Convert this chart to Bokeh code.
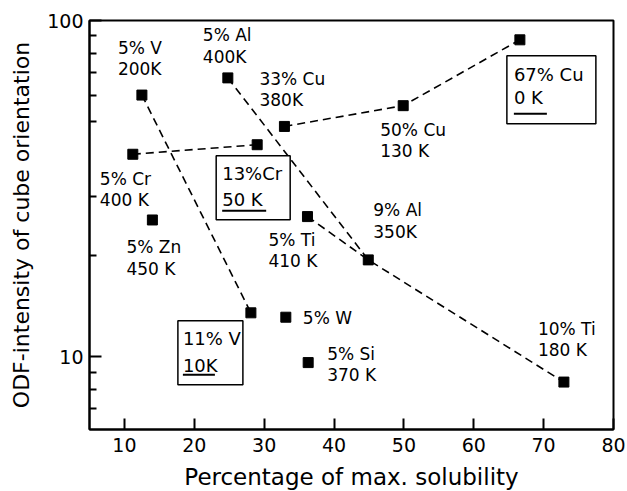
import math

from bokeh.core.properties import value
from bokeh.embed import file_html
from bokeh.models import FixedTicker, PrintfTickFormatter, Range1d
from bokeh.plotting import figure
from bokeh.resources import INLINE

# ---- data -----------------------------------------------------------------
alloys = ["5% V", "11% V", "5% Cr", "13% Cr", "5% Al", "9% Al", "5% Ti",
          "10% Ti", "33% Cu", "50% Cu", "67% Cu", "5% Zn", "5% W", "5% Si"]
solubility = [12.5, 28.1, 11.2, 29.0, 24.8, 44.9, 36.2,
              72.9, 32.9, 49.9, 66.6, 14.0, 33.1, 36.3]
intensity = [60.0, 13.5, 40.0, 42.7, 67.5, 19.4, 26.1,
             8.4, 48.4, 55.8, 87.6, 25.5, 13.1, 9.6]
anneal = ["200K", "10K", "400 K", "50 K", "400K", "350K", "410 K",
          "180 K", "380K", "130 K", "0 K", "450 K", "", "370 K"]

# dashed connections between alloys of one family
series = [
    ["5% V", "11% V"],
    ["5% Cr", "13% Cr"],
    ["5% Al", "9% Al"],
    ["5% Ti", "9% Al", "10% Ti"],
    ["33% Cu", "50% Cu", "67% Cu"],
]

x_ticks = [10, 20, 30, 40, 50, 60, 70, 80]
y_ticks = [10, 100]
y_minor = [7, 8, 9, 20, 30, 50, 60, 70, 80, 90]

# ---- layout ---------------------------------------------------------------
FONT = "DejaVu Sans"
FRAME_W, FRAME_H = 524, 409
X_MIN, X_MAX = 5, 80
Y_MIN, Y_MAX = 6.07, 100
CAP_PAD = 3.5

# label placement in screen pixels, relative to the marker (left, cap top)
label_offsets = {
    "5% V": (-24, -54), "5% Al": (-25, -49), "33% Cu": (-25, -54),
    "5% Cr": (-33, 18), "5% Zn": (-26, 21), "5% Ti": (-39, 17),
    "50% Cu": (-23, 18), "9% Al": (5, -56), "10% Ti": (-26, -60),
    "5% W": (17, -6), "5% Si": (19, -15),
}

# framed labels: box (l, t, r, b), first line (dx, dy), line gap, underline
boxed = {
    "13% Cr": dict(box=(-41, 11, 33, 75), name=(-35, 22), gap=26, uline=44, udy=66),
    "67% Cu": dict(box=(-13, 16, 76, 84), name=(-6, 28), gap=23, uline=33, udy=74),
    "11% V": dict(box=(-73, 8, -8, 72), name=(-68, 19), gap=27, uline=32, udy=62),
}

LOG_SPAN = math.log10(Y_MAX / Y_MIN)


def shift(x, y, dx, dy):
    """Move a data point by (dx, dy) screen pixels (dy downwards)."""
    return (x + dx * (X_MAX - X_MIN) / FRAME_W,
            y * 10 ** (-dy * LOG_SPAN / FRAME_H))


p = figure(
    width=627, height=491, frame_width=FRAME_W, frame_height=FRAME_H,
    x_range=Range1d(X_MIN, X_MAX), y_range=Range1d(Y_MIN, Y_MAX),
    y_axis_type="log", output_backend="svg", toolbar_location=None,
    min_border_left=89, min_border_top=20, min_border_right=14,
    min_border_bottom=62,
)
p.grid.visible = False
p.background_fill_color = "white"
p.border_fill_color = "white"
p.outline_line_color = "black"
p.outline_line_width = 2

for ax in (p.xaxis[0], p.yaxis[0]):
    ax.axis_line_width = 2
    ax.axis_line_color = "black"
    ax.major_tick_line_width = 2
    ax.major_tick_line_color = "black"
    ax.minor_tick_line_width = 2
    ax.minor_tick_line_color = "black"
    ax.major_tick_out = 0
    ax.minor_tick_out = 0
    ax.major_label_text_font = FONT
    ax.major_label_text_font_size = "19px"
    ax.major_label_text_color = "black"
    ax.axis_label_text_font = FONT
    ax.axis_label_text_font_size = "22px"
    ax.axis_label_text_font_style = "normal"
    ax.axis_label_text_color = "black"

xa = p.xaxis[0]
xa.ticker = FixedTicker(ticks=x_ticks)
xa.major_tick_in = 11
xa.minor_tick_in = 0
xa.minor_tick_line_color = None
xa.major_label_standoff = 8
xa.axis_label = "Percentage of max. solubility"
xa.axis_label_text_font_size = "23px"
xa.axis_label_standoff = 9

ya = p.yaxis[0]
ya.ticker = FixedTicker(ticks=y_ticks, minor_ticks=y_minor)
ya.formatter = PrintfTickFormatter(format="%d")
ya.major_tick_in = 12
ya.minor_tick_in = 7
ya.major_label_standoff = 6
ya.axis_label = "ODF-intensity of cube orientation"
ya.axis_label_standoff = 10

pos = {a: (x, y) for a, x, y in zip(alloys, solubility, intensity)}

# dashed family lines
for fam in series:
    p.line([pos[a][0] for a in fam], [pos[a][1] for a in fam],
           line_dash="8 5", line_width=1.6, line_color="black")

# markers
p.scatter(solubility, intensity, marker="square", size=10,
          fill_color="black", line_color="black")

# plain labels
lx, ly, lt, ox, oy = [], [], [], [], []
for a, x, y, t in zip(alloys, solubility, intensity, anneal):
    if a not in label_offsets:
        continue
    dx, dy = label_offsets[a]
    lx.append(x)
    ly.append(y)
    lt.append(a + ("\n" + t if t else ""))
    ox.append(dx)
    oy.append(dy - CAP_PAD)
p.text(lx, ly, text=lt, x_offset=ox, y_offset=oy, text_font=value(FONT),
       text_font_size="17px", text_baseline="top", text_align="left",
       text_line_height=1.06, text_color="black")

# framed labels with underlined temperature
for a, x, y, t in zip(alloys, solubility, intensity, anneal):
    if a not in boxed:
        continue
    b = boxed[a]
    l, tp, r, bt = b["box"]
    left, top = shift(x, y, l, tp)
    right, bottom = shift(x, y, r, bt)
    p.quad(left=left, right=right, top=top, bottom=bottom,
           fill_color="white", line_color="black", line_width=1.5)
    dx, dy = b["name"]
    p.text([x, x], [y, y], text=[a.replace("% ", "%") if a == "13% Cr" else a, t],
           x_offset=[dx, dx], y_offset=[dy - 4, dy - 4 + b["gap"]],
           text_font=value(FONT), text_font_size="18px", text_baseline="top",
           text_align="left", text_color="black")
    u0x, uy = shift(x, y, dx, b["udy"])
    u1x, _ = shift(x, y, dx + b["uline"], b["udy"])
    p.segment(x0=[u0x], y0=[uy], x1=[u1x], y1=[uy], line_width=2,
              line_color="black")

open("out.html", "w").write(file_html(p, INLINE))
